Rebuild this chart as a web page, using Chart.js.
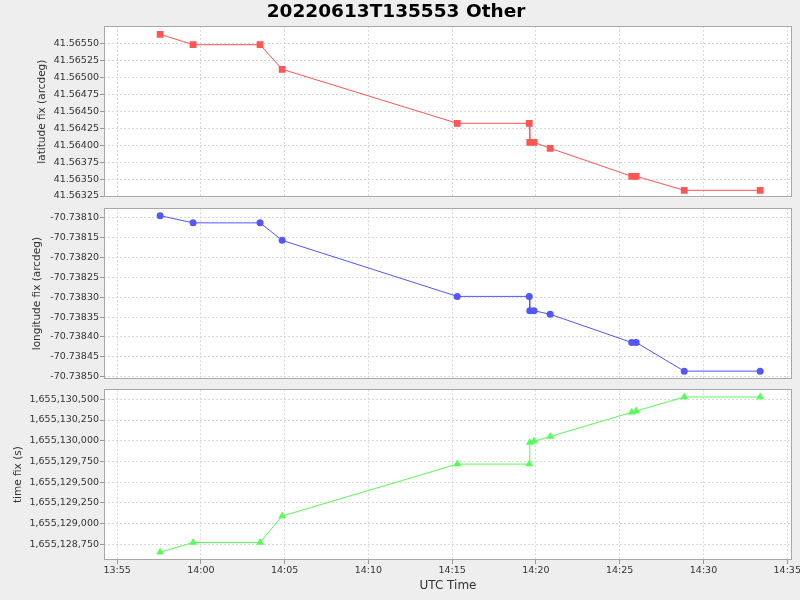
<!DOCTYPE html>
<html>
<head>
<meta charset="utf-8">
<title>20220613T135553 Other</title>
<script src="https://cdn.jsdelivr.net/npm/chart.js@4/dist/chart.umd.min.js"></script>
<style>
  html, body { margin: 0; padding: 0; background: #eeeeee; }
  #wrap { position: relative; width: 800px; height: 600px; }
  canvas { position: absolute; left: 0; }
</style>
</head>
<body>
<div id="wrap">
  <canvas id="chartLat" width="800" height="203" style="top:0"></canvas>
  <canvas id="chartLon" width="800" height="181" style="top:203px"></canvas>
  <canvas id="chartTime" width="800" height="216" style="top:384px"></canvas>
</div>
<script>
// fixes from the log (UTC time of each message)
const utcTimes = ['13:57:34', '13:59:32', '14:03:32', '14:04:51', '14:15:18', '14:19:36', '14:19:38',
                  '14:19:53', '14:20:51', '14:25:43', '14:25:59', '14:28:51', '14:33:23'];
const latitudeFix = [41.565639, 41.565485, 41.565485, 41.565122, 41.564324, 41.564324, 41.564043,
                     41.564043, 41.563955, 41.563541, 41.563541, 41.563334, 41.563334];
const longitudeFix = [-70.738095, -70.738113, -70.738113, -70.738157, -70.738298, -70.738298, -70.738334,
                      -70.738334, -70.738343, -70.738414, -70.738414, -70.738486, -70.738486];
const timeFix = [1655128655, 1655128772, 1655128772, 1655129091, 1655129718, 1655129718, 1655129978,
                 1655129993, 1655130051, 1655130343, 1655130359, 1655130528, 1655130528];

// tick labels
const xTickLabels = ['13:55', '14:00', '14:05', '14:10', '14:15', '14:20', '14:25', '14:30', '14:35'];
const latTicks = [41.56325, 41.56350, 41.56375, 41.56400, 41.56425, 41.56450, 41.56475, 41.56500, 41.56525, 41.56550];
const lonTicks = [-70.73850, -70.73845, -70.73840, -70.73835, -70.73830, -70.73825, -70.73820, -70.73815, -70.73810];
const timeTicks = [1655128750, 1655129000, 1655129250, 1655129500, 1655129750, 1655130000, 1655130250, 1655130500];

// axis ranges (x in seconds of the day)
const xRange = ['13:54:13', '14:35:17'];
const latRange = [41.563231, 41.5657615];
const lonRange = [-70.7385058, -70.7380764];
const timeRange = [1655128560.5, 1655130620.7];

const FONT = 'DejaVu Sans';
const TXT = '#333333';

const toSec = s => { const [h, m, sec = 0] = s.split(':').map(Number); return h * 3600 + m * 60 + sec; };
const xs = utcTimes.map(toSec);
const pts = vals => xs.map((x, i) => ({ x, y: vals[i] }));
const hhmm = v => {
  const h = Math.floor(v / 3600), m = Math.round((v % 3600) / 60);
  return String(h).padStart(2, '0') + ':' + String(m).padStart(2, '0');
};

// white plot background + grey outline like the original
const plotFrame = {
  id: 'plotFrame',
  beforeDraw(chart) {
    const { ctx, chartArea: a } = chart;
    ctx.save();
    ctx.fillStyle = '#ffffff';
    ctx.fillRect(a.left, a.top, a.width, a.height);
    ctx.restore();
  },
  afterDraw(chart) {
    const { ctx, chartArea: a } = chart;
    ctx.save();
    ctx.strokeStyle = '#a8a8a8';
    ctx.lineWidth = 1;
    ctx.strokeRect(Math.round(a.left) + 0.5, Math.round(a.top) + 0.5,
                   Math.round(a.width) - 1, Math.round(a.height) - 1);
    ctx.restore();
  }
};

function makePanel(id, o) {
  const grid = { color: '#d8d8d8', lineWidth: 1, tickLength: 4, tickColor: '#999999', tickBorderDash: [] };
  return new Chart(document.getElementById(id), {
    type: 'line',
    data: {
      datasets: [{
        label: o.yTitle,
        data: pts(o.values),
        borderColor: o.color,
        backgroundColor: o.color,
        borderWidth: 1,
        tension: 0,
        fill: false,
        pointStyle: o.pointStyle,
        pointRadius: o.radius,
        pointBorderWidth: 0,
      }]
    },
    options: {
      responsive: false,
      animation: false,
      layout: { autoPadding: false, padding: o.padding },
      plugins: {
        legend: { display: false },
        tooltip: { enabled: false },
        title: o.title ? {
          display: true, text: o.title, color: '#000000',
          font: { family: FONT, size: 18.5, weight: 'bold', lineHeight: 1 },
          padding: { top: 3, bottom: 4.5 }
        } : { display: false }
      },
      scales: {
        x: {
          type: 'linear',
          min: toSec(xRange[0]),
          max: toSec(xRange[1]),
          afterBuildTicks: s => { s.ticks = xTickLabels.map(t => ({ value: toSec(t) })); },
          ticks: {
            display: !!o.showX, autoSkip: false, maxRotation: 0, padding: 1,
            color: TXT, font: { family: FONT, size: 9.5 },
            callback: v => hhmm(v)
          },
          grid: { ...grid, drawTicks: !!o.showX },
          border: { display: false, dash: [2, 2] },
          title: {
            display: !!o.showX, text: 'UTC Time', color: TXT,
            font: { family: FONT, size: 12 }, padding: { top: 0, bottom: 7 }
          },
          afterFit: s => {
            s.height = o.showX ? 40 : 0;
            s.paddingLeft = 0; s.paddingRight = 0;
          }
        },
        y: {
          type: 'linear',
          min: o.range[0],
          max: o.range[1],
          afterBuildTicks: s => { s.ticks = o.ticks.map(v => ({ value: v })); },
          ticks: {
            autoSkip: false, padding: 1,
            color: TXT, font: { family: FONT, size: 9.5 }, callback: o.fmt
          },
          grid: { ...grid, drawTicks: true },
          border: { display: false, dash: [2, 2] },
          title: {
            display: true, text: o.yTitle, color: TXT,
            font: { family: FONT, size: 10.5 }, padding: { top: o.titleGap, bottom: 0 }
          },
          afterFit: s => {
            s.width = 104;
            s.paddingTop = 0; s.paddingBottom = 0;
          }
        }
      }
    },
    plugins: [plotFrame]
  });
}

makePanel('chartLat', {
  title: '20220613T135553 Other',
  values: latitudeFix, range: latRange, ticks: latTicks,
  fmt: v => v.toFixed(5),
  yTitle: 'latitude fix (arcdeg)', titleGap: 35.5,
  color: '#ff5555', pointStyle: 'rect', radius: 4.8,
  padding: { top: 0, right: 8, bottom: 5.7, left: 0 }
});

makePanel('chartLon', {
  values: longitudeFix, range: lonRange, ticks: lonTicks,
  fmt: v => v.toFixed(5),
  yTitle: 'longitude fix (arcdeg)', titleGap: 31,
  color: '#5555ff', pointStyle: 'circle', radius: 3.5,
  padding: { top: 5.3, right: 8, bottom: 5, left: 0 }
});

makePanel('chartTime', {
  values: timeFix, range: timeRange, ticks: timeTicks,
  fmt: v => Math.round(v).toLocaleString('en-US'),
  yTitle: 'time fix (s)', titleGap: 11.5,
  color: '#55ff55', pointStyle: 'triangle', radius: 4.5,
  showX: true,
  padding: { top: 5.3, right: 8, bottom: 0, left: 0 }
});
</script>
</body>
</html>
